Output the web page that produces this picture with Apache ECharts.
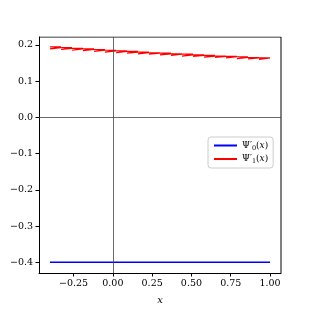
<!DOCTYPE html>
<html><head><meta charset="utf-8">
<script src="https://cdn.jsdelivr.net/npm/echarts@6/dist/echarts.min.js"></script>
<style>html,body{margin:0;padding:0;background:#fff}#c{width:313px;height:313px}</style>
</head><body><div id="c"></div>
<script>
// Data
const blueX = [-0.4, 1.0];
const blueY = [-0.4, -0.4];
// red curve drawn as small step boxes: step edges, upper and lower values per step
const redEdges = [-0.4, -0.33, -0.26, -0.19, -0.12, -0.05, 0.02, 0.09, 0.16, 0.23, 0.30, 0.37, 0.44, 0.51, 0.58, 0.65, 0.72, 0.79, 0.86, 0.93, 1.0];
const redTop = [0.194, 0.192, 0.190, 0.189, 0.187, 0.185, 0.183, 0.182, 0.180, 0.178, 0.177, 0.175, 0.174, 0.172, 0.171, 0.169, 0.168, 0.167, 0.165, 0.164];
const redBot = [0.189, 0.187, 0.185, 0.184, 0.182, 0.180, 0.178, 0.177, 0.175, 0.174, 0.172, 0.171, 0.169, 0.168, 0.166, 0.165, 0.164, 0.162, 0.161, 0.160];
const xTicks = [-0.25, 0, 0.25, 0.5, 0.75, 1.0];
const yTicks = [-0.4, -0.3, -0.2, -0.1, 0.0, 0.1, 0.2];
const names = ['Ψ′0(x)', 'Ψ′1(x)'];

const blueData = blueX.map((x, i) => [x, blueY[i]]);
const redData = [];
for (let k = 0; k < redTop.length; k++) {
  const a = redEdges[k], b = redEdges[k + 1];
  redData.push([a, redTop[k]], [b, redTop[k]], [b, redBot[k]], [a, redBot[k]], [a, redTop[k]]);
}
redData.push([redEdges[redEdges.length - 1], redTop[redTop.length - 1]]);

const chart = echarts.init(document.getElementById('c'), null, {renderer: 'canvas'});
const font = 'DejaVu Serif';
chart.setOption({
  animation: false,
  backgroundColor: '#fff',
  grid: {left: 39, right: 32, top: 37, bottom: 40, containLabel: false},
  legend: {
    left: 208, top: 137, orient: 'vertical',
    padding: [4, 5, 3, 5], itemGap: 3, itemWidth: 23, itemHeight: 10,
    borderColor: '#ccc', borderWidth: 1, borderRadius: 3, backgroundColor: '#fff',
    itemStyle: {opacity: 0},
    textStyle: {fontFamily: font, fontSize: 9, color: '#000',
      rich: {
        a: {fontFamily: font, fontSize: 9, color: '#000'},
        s: {fontFamily: font, fontSize: 6.5, color: '#000', padding: [5, 0, 0, 0]},
        i: {fontFamily: font, fontSize: 9, fontStyle: 'italic', color: '#000'}
      }},
    formatter: n => '{a|Ψ′}{s|' + n.charAt(2) + '}{a|(}{i|x}{a|)}',
    data: names
  },
  xAxis: {
    type: 'value', min: -0.47, max: 1.07,
    name: 'x', nameLocation: 'middle', nameGap: 22,
    nameTextStyle: {fontFamily: font, fontStyle: 'italic', fontSize: 10, color: '#000'},
    axisLine: {onZero: false, lineStyle: {color: '#000', width: 1}},
    axisTick: {show: true, length: 3.5, lineStyle: {color: '#000'}, customValues: xTicks},
    axisLabel: {customValues: xTicks, fontFamily: font, fontSize: 9.5, color: '#000', margin: 6,
      formatter: v => (v < 0 ? '−' : '') + Math.abs(v).toFixed(2)},
    splitLine: {show: false}
  },
  yAxis: {
    type: 'value', min: -0.4295, max: 0.2215,
    axisLine: {show: true, onZero: false, lineStyle: {color: '#000', width: 1}},
    axisTick: {show: true, length: 3.5, lineStyle: {color: '#000'}, customValues: yTicks},
    axisLabel: {customValues: yTicks, fontFamily: font, fontSize: 9.5, color: '#000', margin: 6,
      formatter: v => (v < -1e-9 ? '−' : '') + Math.abs(v).toFixed(1)},
    splitLine: {show: false}
  },
  series: [
    {name: names[0], type: 'line', data: blueData, symbol: 'none', lineStyle: {color: '#0000ff', width: 1.5}, itemStyle: {color: '#0000ff'}, z: 3},
    {name: names[1], type: 'line', data: redData, symbol: 'none', lineStyle: {color: '#ff0000', width: 1.2}, itemStyle: {color: '#ff0000'}, z: 3},
    {name: 'zero', type: 'line', data: [], symbol: 'none', silent: true,
      markLine: {silent: true, symbol: 'none', label: {show: false},
        lineStyle: {color: '#444', width: 0.8, type: 'solid'},
        data: [{xAxis: 0}, {yAxis: 0}]}, z: 1},
    {type: 'line', data: [[-0.47, 0.2215], [1.07, 0.2215]], symbol: 'none', silent: true, lineStyle: {color: '#000', width: 1}, z: 2},
    {type: 'line', data: [[1.07, -0.4295], [1.07, 0.2215]], symbol: 'none', silent: true, lineStyle: {color: '#000', width: 1}, z: 2}
  ]
});
</script></body></html>
